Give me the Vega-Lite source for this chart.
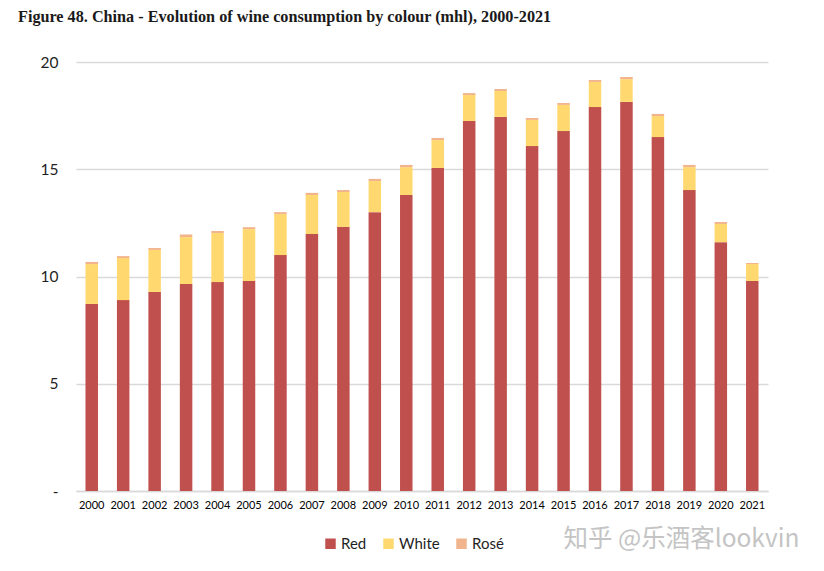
{
  "$schema": "https://vega.github.io/schema/vega-lite/v6.json",
  "width": 692,
  "height": 429,
  "autosize": {"type": "none"},
  "padding": {"left": 76, "top": 62, "right": 56, "bottom": 80},
  "background": "white",
  "title": {
    "text": "Figure 48. China - Evolution of wine consumption by colour (mhl), 2000-2021",
    "anchor": "start",
    "frame": "group",
    "dx": -58,
    "offset": 30,
    "font": "Liberation Serif",
    "fontSize": 16.2,
    "fontWeight": "bold",
    "color": "#1a1a1a"
  },
  "config": {
    "view": {"stroke": null},
    "axis": {"labelFont": "Lato", "labelColor": "#333333"}
  },
  "datasets": {
    "wine": [
      {"year": "2000", "colour": "Red", "k": 1, "mhl": 8.72},
      {"year": "2000", "colour": "White", "k": 2, "mhl": 1.86},
      {"year": "2000", "colour": "Rosé", "k": 3, "mhl": 0.1},
      {"year": "2001", "colour": "Red", "k": 1, "mhl": 8.9},
      {"year": "2001", "colour": "White", "k": 2, "mhl": 1.96},
      {"year": "2001", "colour": "Rosé", "k": 3, "mhl": 0.09},
      {"year": "2002", "colour": "Red", "k": 1, "mhl": 9.28},
      {"year": "2002", "colour": "White", "k": 2, "mhl": 1.96},
      {"year": "2002", "colour": "Rosé", "k": 3, "mhl": 0.09},
      {"year": "2003", "colour": "Red", "k": 1, "mhl": 9.65},
      {"year": "2003", "colour": "White", "k": 2, "mhl": 2.19},
      {"year": "2003", "colour": "Rosé", "k": 3, "mhl": 0.12},
      {"year": "2004", "colour": "Red", "k": 1, "mhl": 9.74},
      {"year": "2004", "colour": "White", "k": 2, "mhl": 2.29},
      {"year": "2004", "colour": "Rosé", "k": 3, "mhl": 0.09},
      {"year": "2005", "colour": "Red", "k": 1, "mhl": 9.79},
      {"year": "2005", "colour": "White", "k": 2, "mhl": 2.42},
      {"year": "2005", "colour": "Rosé", "k": 3, "mhl": 0.09},
      {"year": "2006", "colour": "Red", "k": 1, "mhl": 11.0},
      {"year": "2006", "colour": "White", "k": 2, "mhl": 1.91},
      {"year": "2006", "colour": "Rosé", "k": 3, "mhl": 0.09},
      {"year": "2007", "colour": "Red", "k": 1, "mhl": 11.98},
      {"year": "2007", "colour": "White", "k": 2, "mhl": 1.82},
      {"year": "2007", "colour": "Rosé", "k": 3, "mhl": 0.1},
      {"year": "2008", "colour": "Red", "k": 1, "mhl": 12.31},
      {"year": "2008", "colour": "White", "k": 2, "mhl": 1.63},
      {"year": "2008", "colour": "Rosé", "k": 3, "mhl": 0.09},
      {"year": "2009", "colour": "Red", "k": 1, "mhl": 13.0},
      {"year": "2009", "colour": "White", "k": 2, "mhl": 1.45},
      {"year": "2009", "colour": "Rosé", "k": 3, "mhl": 0.1},
      {"year": "2010", "colour": "Red", "k": 1, "mhl": 13.8},
      {"year": "2010", "colour": "White", "k": 2, "mhl": 1.3},
      {"year": "2010", "colour": "Rosé", "k": 3, "mhl": 0.1},
      {"year": "2011", "colour": "Red", "k": 1, "mhl": 15.06},
      {"year": "2011", "colour": "White", "k": 2, "mhl": 1.3},
      {"year": "2011", "colour": "Rosé", "k": 3, "mhl": 0.1},
      {"year": "2012", "colour": "Red", "k": 1, "mhl": 17.25},
      {"year": "2012", "colour": "White", "k": 2, "mhl": 1.21},
      {"year": "2012", "colour": "Rosé", "k": 3, "mhl": 0.09},
      {"year": "2013", "colour": "Red", "k": 1, "mhl": 17.44},
      {"year": "2013", "colour": "White", "k": 2, "mhl": 1.21},
      {"year": "2013", "colour": "Rosé", "k": 3, "mhl": 0.09},
      {"year": "2014", "colour": "Red", "k": 1, "mhl": 16.08},
      {"year": "2014", "colour": "White", "k": 2, "mhl": 1.22},
      {"year": "2014", "colour": "Rosé", "k": 3, "mhl": 0.09},
      {"year": "2015", "colour": "Red", "k": 1, "mhl": 16.78},
      {"year": "2015", "colour": "White", "k": 2, "mhl": 1.22},
      {"year": "2015", "colour": "Rosé", "k": 3, "mhl": 0.09},
      {"year": "2016", "colour": "Red", "k": 1, "mhl": 17.9},
      {"year": "2016", "colour": "White", "k": 2, "mhl": 1.17},
      {"year": "2016", "colour": "Rosé", "k": 3, "mhl": 0.09},
      {"year": "2017", "colour": "Red", "k": 1, "mhl": 18.14},
      {"year": "2017", "colour": "White", "k": 2, "mhl": 1.06},
      {"year": "2017", "colour": "Rosé", "k": 3, "mhl": 0.1},
      {"year": "2018", "colour": "Red", "k": 1, "mhl": 16.5},
      {"year": "2018", "colour": "White", "k": 2, "mhl": 0.98},
      {"year": "2018", "colour": "Rosé", "k": 3, "mhl": 0.1},
      {"year": "2019", "colour": "Red", "k": 1, "mhl": 14.03},
      {"year": "2019", "colour": "White", "k": 2, "mhl": 1.07},
      {"year": "2019", "colour": "Rosé", "k": 3, "mhl": 0.1},
      {"year": "2020", "colour": "Red", "k": 1, "mhl": 11.6},
      {"year": "2020", "colour": "White", "k": 2, "mhl": 0.85},
      {"year": "2020", "colour": "Rosé", "k": 3, "mhl": 0.09},
      {"year": "2021", "colour": "Red", "k": 1, "mhl": 9.79},
      {"year": "2021", "colour": "White", "k": 2, "mhl": 0.79},
      {"year": "2021", "colour": "Rosé", "k": 3, "mhl": 0.05}
    ],
    "mark": [
      {"year": "2015", "v": -2.3, "label": "知乎 @乐酒客lookvin"}
    ]
  },
  "layer": [
    {
      "data": {"name": "wine"},
      "mark": {"type": "bar", "size": 12.5},
      "encoding": {
        "x": {
          "field": "year",
          "type": "ordinal",
          "scale": {"paddingInner": 0.6, "paddingOuter": 0.3},
          "axis": {
            "title": null,
            "labelAngle": 0,
            "labelFontSize": 11,
            "labelColor": "#000000",
            "labelFont": "Lato",
            "ticks": false,
            "labelPadding": 8,
            "domainColor": "#D9D9D9",
            "domainWidth": 1.5
          }
        },
        "y": {
          "field": "mhl",
          "type": "quantitative",
          "stack": "zero",
          "scale": {"domain": [0, 20], "nice": false},
          "axis": {
            "title": null,
            "values": [0, 5, 10, 15, 20],
            "labelExpr": "datum.value == 0 ? '-' : datum.label",
            "labelFontSize": 15.5,
            "labelColor": "#1f1f1f",
            "labelPadding": 18,
            "ticks": false,
            "domain": false,
            "gridColor": "#D9D9D9",
            "gridWidth": 1.5
          }
        },
        "color": {
          "field": "colour",
          "type": "nominal",
          "sort": ["Red", "White", "Rosé"],
          "scale": {"domain": ["Red", "White", "Rosé"], "range": ["#C0504D", "#FFD970", "#F2B48C"]},
          "legend": {
            "title": null,
            "orient": "none",
            "legendX": 247,
            "legendY": 474,
            "direction": "horizontal",
            "symbolType": "square",
            "symbolSize": 110,
            "symbolStrokeWidth": 0,
            "labelFont": "Lato",
            "labelFontSize": 15,
            "labelColor": "#1f1f1f",
            "labelOffset": 3,
            "columnPadding": 14
          }
        },
        "order": {"field": "k", "type": "quantitative", "sort": "ascending"}
      }
    },
    {
      "data": {"name": "mark"},
      "mark": {
        "type": "text",
        "align": "left",
        "baseline": "middle",
        "font": "Noto Sans CJK SC",
        "fontSize": 24.5,
        "color": "#C4C4C4",
        "clip": false
      },
      "encoding": {
        "x": {"field": "year", "type": "ordinal"},
        "y": {"field": "v", "type": "quantitative"},
        "text": {"field": "label"}
      }
    }
  ]
}
